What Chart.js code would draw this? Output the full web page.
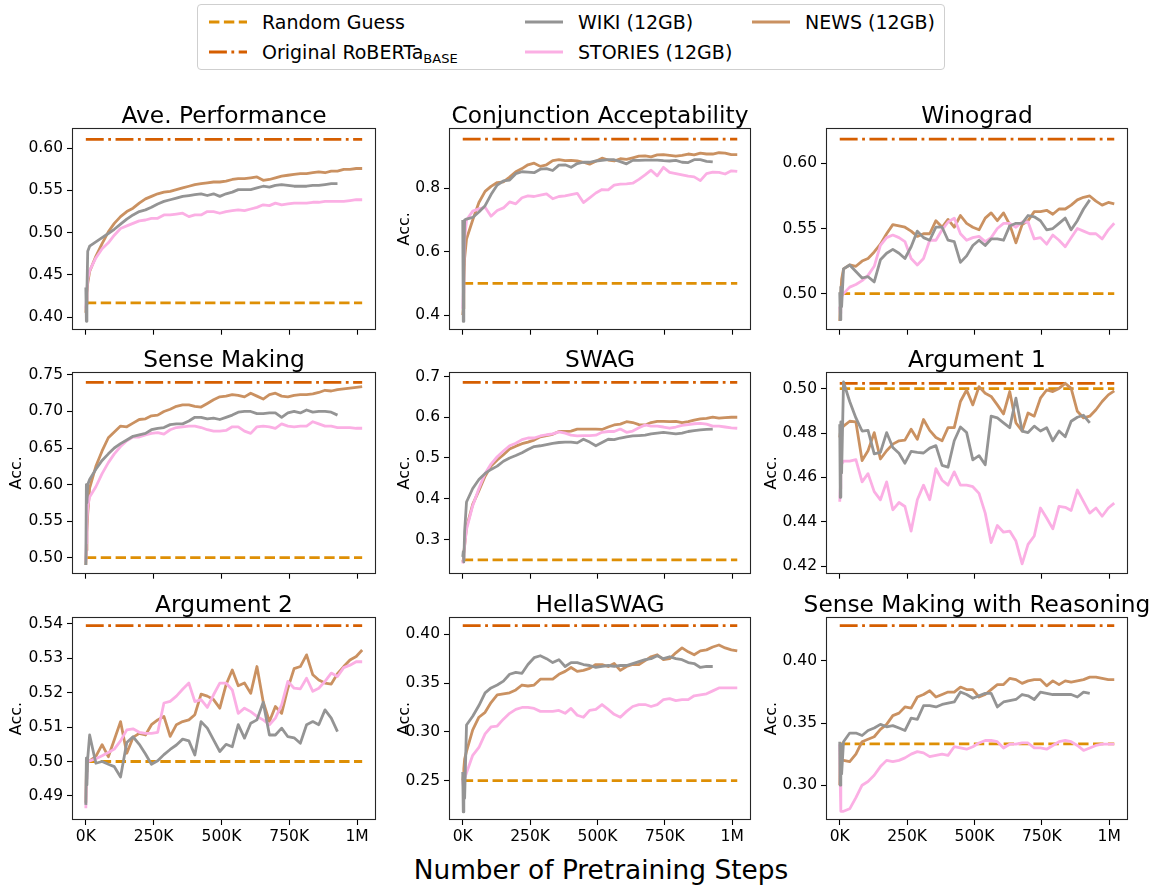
<!DOCTYPE html>
<html><head><meta charset="utf-8">
<script src="https://cdn.jsdelivr.net/npm/chart.js@4"></script>
<style>
html,body{margin:0;padding:0;background:#fff;}
body{width:1159px;height:887px;position:relative;overflow:hidden;font-family:"DejaVu Sans",sans-serif;color:#000;}
canvas.cv{position:absolute;}
#legend{position:absolute;left:197px;top:4px;width:748px;height:66px;border:1px solid #cfcfcf;border-radius:4px;box-sizing:border-box;background:#fff;}
.li{position:absolute;height:24px;display:flex;align-items:center;white-space:nowrap;font-size:19px;line-height:24px;}
.li svg{margin-right:15px;flex:none;}
.li sub{font-size:13px;vertical-align:-4px;line-height:0;}
#xlabel{position:absolute;left:0;width:1202px;text-align:center;top:855px;font-size:26.4px;line-height:30px;white-space:nowrap;}
</style></head><body>
<div id="legend"></div>
<div id="xlabel">Number of Pretraining Steps</div>
<script>
// ---------------- DATA ----------------
// pretraining steps (in thousands) of the checkpoints
const STEPS_K = [0,2,4,7,14,37,60,83,105,128,151,174,197,220,242,265,288,311,334,357,380,402,425,448,471,494,517,540,562,585,608,631,654,677,699,722,745,768,791,814,837,859,882,905,928,951,974,997,1019];
const XTICKS = [0,250,500,750,1000];
const XTICK_LABELS = ['0K','250K','500K','750K','1M'];
const TITLES = ['Ave. Performance','Conjunction Acceptability','Winograd','Sense Making','SWAG','Argument 1','Argument 2','HellaSWAG','Sense Making with Reasoning'];
const RANDOM_GUESS = [0.4167,0.5,0.5,0.5,0.25,0.5,0.5,0.25,0.3333];
const ROBERTA_BASE = [0.6105,0.955,0.6187,0.7397,0.6855,0.5024,0.5395,0.4088,0.4284];
const YTICKS = [[0.40,0.45,0.50,0.55,0.60],[0.4,0.6,0.8],[0.50,0.55,0.60],[0.50,0.55,0.60,0.65,0.70,0.75],[0.3,0.4,0.5,0.6,0.7],[0.42,0.44,0.46,0.48,0.50],[0.49,0.50,0.51,0.52,0.53,0.54],[0.25,0.30,0.35,0.40],[0.30,0.35,0.40]];

const AVE_WIKI = [0.435,0.395,0.43,0.478, 0.484,0.489,0.494,0.499,0.504,0.510,0.516,0.521,0.525,0.527, 0.530,0.534,0.537,0.539,0.541,0.543,0.544,0.545,0.546,0.544, 0.546,0.543,0.546,0.548,0.551,0.551,0.551,0.553,0.555,0.554, 0.556,0.557,0.556,0.555,0.555,0.555,0.556,0.556,0.557,0.558, 0.558];
const AVE_STORIES = [0.41,0.42,0.432,0.445, 0.455,0.470,0.481,0.488,0.497,0.505,0.508,0.511,0.514,0.515, 0.517,0.517,0.521,0.521,0.522,0.523,0.519,0.521,0.521,0.525, 0.525,0.523,0.525,0.526,0.527,0.526,0.528,0.530,0.533,0.532, 0.535,0.533,0.534,0.535,0.535,0.535,0.536,0.536,0.537,0.537, 0.537,0.537,0.538,0.539,0.539];
const AVE_NEWS = [0.405,0.415,0.428,0.44, 0.454,0.472,0.487,0.501,0.511,0.519,0.525,0.529,0.535,0.540, 0.543,0.546,0.548,0.549,0.551,0.553,0.555,0.557,0.558,0.559, 0.560,0.560,0.561,0.563,0.564,0.564,0.565,0.566,0.562,0.563, 0.565,0.567,0.568,0.569,0.570,0.570,0.571,0.572,0.571,0.573, 0.573,0.575,0.575,0.576,0.576];

const CONJ_WIKI = [0.70,0.38,0.55,0.70, 0.703,0.708,0.725,0.745,0.78,0.81,0.823,0.826,0.846,0.852, 0.851,0.849,0.86,0.862,0.856,0.873,0.874,0.866,0.878,0.882, 0.882,0.886,0.888,0.89,0.89,0.884,0.877,0.888,0.888,0.889, 0.889,0.889,0.887,0.886,0.888,0.882,0.881,0.89,0.89,0.885, 0.883];
const CONJ_STORIES = [0.42,0.47,0.56,0.64, 0.70,0.728,0.735,0.74,0.712,0.73,0.738,0.757,0.751,0.77, 0.776,0.774,0.778,0.782,0.767,0.774,0.776,0.78,0.784,0.755, 0.77,0.785,0.796,0.795,0.81,0.813,0.814,0.816,0.828,0.842, 0.857,0.839,0.866,0.85,0.846,0.842,0.838,0.836,0.824,0.846, 0.851,0.85,0.845,0.855,0.853];
const CONJ_NEWS = [0.40,0.42,0.50,0.58, 0.64,0.70,0.755,0.79,0.806,0.818,0.82,0.835,0.852,0.862, 0.874,0.879,0.869,0.874,0.887,0.89,0.887,0.888,0.886,0.882, 0.876,0.885,0.895,0.889,0.886,0.893,0.891,0.896,0.901,0.902, 0.899,0.905,0.906,0.904,0.901,0.904,0.908,0.905,0.911,0.908, 0.908,0.912,0.911,0.906,0.906];

const WINO_WIKI = [0.501,0.48,0.505,0.49, 0.519,0.522,0.517,0.512,0.513,0.509,0.526,0.531,0.534,0.531, 0.527,0.536,0.548,0.543,0.541,0.551,0.551,0.541,0.540,0.524, 0.529,0.537,0.541,0.537,0.542,0.542,0.541,0.552,0.554,0.554, 0.560,0.559,0.556,0.549,0.550,0.554,0.558,0.549,0.556,0.565, 0.572];
const WINO_STORIES = [0.49,0.485,0.49,0.498, 0.500,0.505,0.507,0.510,0.514,0.521,0.537,0.543,0.545,0.543, 0.540,0.527,0.522,0.527,0.541,0.541,0.549,0.555,0.558,0.546, 0.541,0.543,0.544,0.540,0.543,0.550,0.554,0.554,0.551,0.555, 0.555,0.542,0.543,0.538,0.545,0.541,0.536,0.543,0.550,0.548, 0.546,0.546,0.542,0.549,0.554];
const WINO_NEWS = [0.479,0.49,0.50,0.511, 0.519,0.522,0.521,0.525,0.527,0.532,0.538,0.546,0.553,0.552, 0.551,0.548,0.544,0.546,0.546,0.556,0.551,0.557,0.551,0.560, 0.554,0.551,0.549,0.558,0.562,0.556,0.562,0.553,0.539,0.553, 0.556,0.563,0.563,0.564,0.561,0.565,0.565,0.568,0.572,0.574, 0.575,0.571,0.568,0.570,0.569];

const SENSE_WIKI = [0.49,0.60,0.575,0.60, 0.607,0.621,0.633,0.642,0.650,0.656,0.661,0.666,0.668,0.670, 0.675,0.677,0.678,0.682,0.683,0.683,0.687,0.692,0.692,0.690, 0.691,0.689,0.692,0.695,0.699,0.700,0.700,0.697,0.697,0.698, 0.698,0.692,0.698,0.700,0.698,0.702,0.699,0.700,0.700,0.699, 0.695];
const SENSE_STORIES = [0.495,0.52,0.55,0.57, 0.583,0.597,0.615,0.630,0.642,0.652,0.660,0.665,0.665,0.668, 0.670,0.671,0.669,0.675,0.678,0.679,0.680,0.680,0.678,0.675, 0.673,0.673,0.674,0.679,0.679,0.673,0.670,0.679,0.680,0.679, 0.677,0.683,0.680,0.679,0.680,0.680,0.686,0.683,0.680,0.680, 0.678,0.678,0.678,0.677,0.677];
const SENSE_NEWS = [0.49,0.51,0.535,0.56, 0.595,0.625,0.646,0.664,0.672,0.680,0.679,0.684,0.689,0.690, 0.694,0.695,0.700,0.703,0.707,0.709,0.709,0.707,0.706,0.711, 0.716,0.720,0.721,0.723,0.722,0.720,0.725,0.721,0.717,0.723, 0.725,0.721,0.720,0.722,0.723,0.723,0.724,0.726,0.729,0.728, 0.730,0.731,0.732,0.733,0.734];

const SWAG_WIKI = [0.257,0.27,0.245,0.32, 0.392,0.425,0.447,0.462,0.472,0.480,0.492,0.500,0.506,0.513, 0.521,0.528,0.530,0.533,0.536,0.538,0.539,0.539,0.537,0.546, 0.539,0.530,0.538,0.546,0.545,0.549,0.552,0.554,0.555,0.556, 0.559,0.561,0.563,0.561,0.559,0.561,0.565,0.567,0.569,0.570, 0.571];
const SWAG_STORIES = [0.241,0.25,0.265,0.285, 0.325,0.383,0.425,0.462,0.485,0.503,0.517,0.530,0.536,0.545, 0.549,0.549,0.554,0.557,0.559,0.564,0.561,0.556,0.554,0.555, 0.555,0.556,0.563,0.565,0.565,0.571,0.563,0.566,0.574,0.581, 0.578,0.578,0.576,0.573,0.576,0.580,0.582,0.584,0.585,0.583, 0.578,0.578,0.576,0.574,0.573];
const SWAG_NEWS = [0.245,0.25,0.265,0.285, 0.33,0.386,0.42,0.455,0.48,0.495,0.508,0.522,0.529,0.535, 0.539,0.544,0.552,0.555,0.558,0.565,0.565,0.566,0.571,0.571, 0.571,0.571,0.570,0.576,0.581,0.583,0.589,0.587,0.582,0.581, 0.587,0.590,0.590,0.589,0.590,0.587,0.589,0.593,0.596,0.597, 0.600,0.598,0.599,0.600,0.600];

const ARG1_WIKI = [0.484,0.451,0.485,0.462, 0.503,0.4942,0.4868,0.4809,0.4812,0.4706,0.4713,0.4802,0.4735,0.4709, 0.4664,0.4717,0.4713,0.4710,0.4732,0.4743,0.4654,0.4646,0.4765,0.4827, 0.4802,0.4679,0.4698,0.4657,0.4876,0.4868,0.4846,0.4824,0.4957,0.4809, 0.4802,0.4831,0.4809,0.4824,0.4765,0.4809,0.4783,0.4853,0.4871,0.4880, 0.4846];
const ARG1_STORIES = [0.449,0.455,0.462,0.466, 0.4673,0.4673,0.468,0.458,0.4617,0.4536,0.4499,0.458,0.4454,0.4487, 0.4469,0.4358,0.4499,0.4565,0.4499,0.4639,0.4587,0.4565,0.4625,0.4565, 0.4565,0.4558,0.4528,0.4439,0.4306,0.4383,0.4353,0.4358,0.4313,0.421, 0.4298,0.4336,0.4462,0.4417,0.4368,0.4469,0.4465,0.4451,0.4543,0.4491, 0.4439,0.4462,0.4425,0.4462,0.4484];
const ARG1_NEWS = [0.478,0.48,0.476,0.482, 0.4831,0.4853,0.485,0.4676,0.472,0.4802,0.4683,0.472,0.475,0.4765, 0.4768,0.4817,0.4772,0.4861,0.4812,0.4780,0.4765,0.4824,0.4824,0.4942, 0.4994,0.4927,0.5009,0.4979,0.4965,0.4927,0.4886,0.4987,0.4846,0.4809, 0.489,0.4876,0.4957,0.4994,0.4987,0.5001,0.5024,0.5001,0.4898,0.4868, 0.4876,0.4905,0.4942,0.4972,0.4990];

const ARG2_WIKI = [0.4874,0.501,0.4932,0.501, 0.5077,0.4995,0.5,0.4992,0.4985,0.4955,0.5055,0.5072,0.505,0.5022, 0.4992,0.5002,0.502,0.5035,0.5048,0.5065,0.506,0.5019,0.5116,0.5097, 0.5063,0.5029,0.505,0.5043,0.5107,0.5068,0.5111,0.5121,0.5172,0.5077, 0.5077,0.5097,0.5072,0.5069,0.5053,0.5107,0.5116,0.5107,0.515,0.5126, 0.5087];
const ARG2_STORIES = [0.4864,0.495,0.50,0.50, 0.5002,0.5008,0.5017,0.5026,0.5036,0.506,0.5092,0.5095,0.5085,0.5082, 0.5082,0.5085,0.517,0.5175,0.519,0.521,0.5228,0.5174,0.518,0.5157, 0.5194,0.5228,0.5228,0.5208,0.514,0.5155,0.5145,0.5131,0.5121,0.5107, 0.5126,0.5165,0.5233,0.5213,0.5211,0.5242,0.5204,0.5213,0.5233,0.5257, 0.5247,0.5273,0.528,0.529,0.529];
const ARG2_NEWS = [0.488,0.497,0.50,0.50, 0.5002,0.5015,0.5049,0.5014,0.5063,0.5116,0.5024,0.507,0.5082,0.5077, 0.5107,0.5121,0.5131,0.5073,0.5107,0.5116,0.5121,0.5136,0.5196,0.519, 0.518,0.5155,0.5223,0.5266,0.522,0.5228,0.5198,0.5276,0.5174,0.5116, 0.516,0.514,0.5213,0.527,0.5276,0.531,0.5252,0.5237,0.5228,0.5225, 0.5255,0.5276,0.5295,0.5305,0.5324];

const HELLA_WIKI = [0.259,0.218,0.249,0.232, 0.307,0.316,0.327,0.340,0.345,0.348,0.352,0.359,0.361,0.360, 0.369,0.376,0.378,0.375,0.371,0.374,0.367,0.371,0.371,0.369, 0.368,0.366,0.367,0.368,0.367,0.368,0.368,0.370,0.372,0.374, 0.375,0.378,0.375,0.377,0.375,0.374,0.371,0.370,0.366,0.367, 0.367];
const HELLA_STORIES = [0.25,0.245,0.25,0.252, 0.258,0.276,0.284,0.298,0.305,0.306,0.313,0.319,0.323,0.325, 0.325,0.324,0.321,0.321,0.321,0.322,0.319,0.324,0.317,0.315, 0.322,0.323,0.328,0.323,0.318,0.315,0.321,0.326,0.328,0.328, 0.326,0.328,0.333,0.334,0.332,0.333,0.333,0.337,0.338,0.339, 0.342,0.345,0.345,0.345,0.345];
const HELLA_NEWS = [0.25,0.255,0.262,0.272, 0.28,0.302,0.315,0.320,0.330,0.338,0.339,0.340,0.343,0.348, 0.347,0.348,0.354,0.354,0.354,0.359,0.362,0.366,0.362,0.363, 0.365,0.369,0.369,0.367,0.370,0.363,0.367,0.369,0.369,0.373, 0.377,0.379,0.374,0.375,0.381,0.386,0.382,0.379,0.383,0.384, 0.387,0.389,0.386,0.384,0.383];

const SMR_WIKI = [0.335,0.30,0.333,0.309, 0.335,0.342,0.342,0.340,0.344,0.346,0.349,0.347,0.348,0.346, 0.344,0.354,0.353,0.364,0.364,0.363,0.365,0.366,0.367,0.375, 0.373,0.370,0.372,0.374,0.374,0.363,0.367,0.368,0.369,0.373, 0.372,0.369,0.375,0.374,0.373,0.373,0.373,0.373,0.371,0.375, 0.374];
const SMR_STORIES = [0.333,0.30,0.279,0.279, 0.279,0.281,0.290,0.300,0.303,0.308,0.315,0.320,0.319,0.320, 0.322,0.325,0.327,0.326,0.323,0.324,0.325,0.324,0.331,0.330, 0.329,0.331,0.334,0.336,0.336,0.335,0.330,0.333,0.333,0.334, 0.334,0.330,0.330,0.329,0.332,0.335,0.336,0.335,0.332,0.328, 0.330,0.332,0.333,0.333,0.333];
const SMR_NEWS = [0.30,0.33,0.32,0.32, 0.32,0.319,0.325,0.335,0.337,0.339,0.345,0.349,0.356,0.358, 0.363,0.362,0.371,0.373,0.376,0.371,0.373,0.375,0.375,0.379, 0.377,0.377,0.371,0.373,0.377,0.381,0.381,0.386,0.385,0.382, 0.384,0.385,0.385,0.380,0.384,0.381,0.384,0.383,0.384,0.385, 0.387,0.387,0.386,0.385,0.385];

const SERIES = [
  [AVE_WIKI, AVE_STORIES, AVE_NEWS],
  [CONJ_WIKI, CONJ_STORIES, CONJ_NEWS],
  [WINO_WIKI, WINO_STORIES, WINO_NEWS],
  [SENSE_WIKI, SENSE_STORIES, SENSE_NEWS],
  [SWAG_WIKI, SWAG_STORIES, SWAG_NEWS],
  [ARG1_WIKI, ARG1_STORIES, ARG1_NEWS],
  [ARG2_WIKI, ARG2_STORIES, ARG2_NEWS],
  [HELLA_WIKI, HELLA_STORIES, HELLA_NEWS],
  [SMR_WIKI, SMR_STORIES, SMR_NEWS]
];
const SERIES_NAMES = ['WIKI (12GB)','STORIES (12GB)','NEWS (12GB)'];

// ---------------- LAYOUT / STYLE ----------------
const BOXES = [[72,128,376,333],[449,128,751,333],[826,128,1128,333],
               [72,372,376,577],[449,372,751,577],[826,372,1128,577],
               [72,617,376,820],[449,617,751,820],[826,617,1128,820]];
const YRANGE = [[0.385,0.624],[0.354,0.990],[0.4723,0.6272],[0.478,0.754],[0.216,0.711],[0.4166,0.5075],[0.483,0.542],[0.2097,0.4177],[0.272,0.4354]];
const DECIMALS = [2,1,2,2,1,2,2,2,2];
const YLABEL_X = [null,405,405,17,405,772,17,405,772];
const X_MIN = -51, X_MAX = 1070;
const COLORS = {wiki:'#949494', stories:'#fbafe4', news:'#ca9161', random:'#de8f05', roberta:'#d55e00'};
const LW = 2.8;
const DASH_RANDOM = [10.4,4.5];
const DASH_ROBERTA = [17.9,4.5,2.8,4.5];
const FONT = '"DejaVu Sans"';

const framePlugin = {
  id:'frameTitle',
  afterDraw(chart, args, opts){
    const {ctx, chartArea:a} = chart;
    ctx.save();
    ctx.strokeStyle = '#262626'; ctx.lineWidth = 1.1;
    ctx.strokeRect(Math.round(a.left)+0.5, Math.round(a.top)+0.5, Math.round(a.right-a.left)-1, Math.round(a.bottom-a.top)-1);
    ctx.fillStyle = '#000';
    ctx.font = '23.3px ' + FONT;
    ctx.textAlign = 'center'; ctx.textBaseline = 'alphabetic';
    ctx.fillText(opts.text, (a.left+a.right)/2, a.top - 5);
    ctx.restore();
  }
};

function makeChart(i){
  const [L,T,R,B] = BOXES[i];
  const col = i % 3;
  const bottomRow = i >= 6;
  const axisW = 72, padTop = 40;
  const padRight = col === 2 ? (1159 - R) : 14;
  const xAxisH = bottomRow ? 34 : 10;
  const cw = axisW + (R - L) + padRight;
  const ch = padTop + (B - T) + xAxisH;
  const cv = document.createElement('canvas');
  cv.className = 'cv';
  cv.width = cw; cv.height = ch;
  cv.style.left = (L - axisW) + 'px';
  cv.style.top = (T - padTop) + 'px';
  cv.style.width = cw + 'px'; cv.style.height = ch + 'px';
  document.body.appendChild(cv);

  const last = STEPS_K[STEPS_K.length - 1];
  const pts = arr => arr.map((v, j) => ({x: STEPS_K[j], y: v}));
  const [w, s, n] = SERIES[i];
  const base = {pointRadius:0, pointHoverRadius:0, borderWidth:LW, tension:0, fill:false, borderJoinStyle:'round', borderCapStyle:'butt'};
  const datasets = [
    Object.assign({label:'Random Guess', data:[{x:0,y:RANDOM_GUESS[i]},{x:last,y:RANDOM_GUESS[i]}], borderColor:COLORS.random, borderDash:DASH_RANDOM, order:5}, base),
    Object.assign({label:'Original RoBERTa BASE', data:[{x:0,y:ROBERTA_BASE[i]},{x:last,y:ROBERTA_BASE[i]}], borderColor:COLORS.roberta, borderDash:DASH_ROBERTA, order:4}, base),
    Object.assign({label:SERIES_NAMES[2], data:pts(n), borderColor:COLORS.news, order:3}, base),
    Object.assign({label:SERIES_NAMES[1], data:pts(s), borderColor:COLORS.stories, order:2}, base),
    Object.assign({label:SERIES_NAMES[0], data:pts(w), borderColor:COLORS.wiki, order:1}, base)
  ];
  const ylabSize = 16;
  const ylabPad = YLABEL_X[i] === null ? 0 : (YLABEL_X[i] - (L - axisW)) - 0.6*ylabSize;
  const tickFont = {family:'DejaVu Sans', size:15.5};
  const gridOpt = {display:true, drawOnChartArea:false, drawTicks:true, tickLength:5, tickColor:'#000', tickWidth:1.1, color:'#000'};

  new Chart(cv, {
    type:'line',
    data:{datasets},
    options:{
      responsive:false, animation:false, devicePixelRatio:1,
      parsing:false, normalized:true,
      layout:{padding:{top:padTop, right:padRight, left:0, bottom:0}},
      plugins:{legend:{display:false}, tooltip:{enabled:false}, title:{display:false}, frameTitle:{text:TITLES[i]}},
      events:[],
      scales:{
        x:{type:'linear', min:X_MIN, max:X_MAX,
           afterFit(sc){ sc.height = xAxisH; },
           afterBuildTicks(sc){ sc.ticks = XTICKS.map(v => ({value:v})); },
           ticks:{callback:(v, idx) => bottomRow ? XTICK_LABELS[idx] : '', font:tickFont, color:'#000', padding:3, maxRotation:0, autoSkip:false},
           grid:gridOpt, border:{display:false}},
        y:{type:'linear', min:YRANGE[i][0], max:YRANGE[i][1],
           afterFit(sc){ sc.width = axisW; },
           afterBuildTicks(sc){ sc.ticks = YTICKS[i].map(v => ({value:v})); },
           ticks:{callback:v => Number(v).toFixed(DECIMALS[i]), font:tickFont, color:'#000', padding:4, autoSkip:false},
           title:{display:YLABEL_X[i] !== null, text:'Acc.', color:'#000', font:{family:'DejaVu Sans', size:ylabSize}, padding:{top:ylabPad, bottom:0}},
           grid:gridOpt, border:{display:false}}
      }
    },
    plugins:[framePlugin]
  });
}

// ---------------- LEGEND ----------------
function swatch(color, dash){
  const da = dash ? ` stroke-dasharray="${dash.join(' ')}"` : '';
  return `<svg width="38" height="24"><line x1="0" y1="12" x2="38" y2="12" stroke="${color}" stroke-width="${LW}"${da}/></svg>`;
}
const LEGEND_ITEMS = [
  {x:209, y:10, html:swatch(COLORS.random, DASH_RANDOM) + '<span>Random Guess</span>'},
  {x:209, y:40, html:swatch(COLORS.roberta, DASH_ROBERTA) + '<span>Original RoBERTa<sub>BASE</sub></span>'},
  {x:525, y:10, html:swatch(COLORS.wiki) + '<span>' + SERIES_NAMES[0] + '</span>'},
  {x:525, y:40, html:swatch(COLORS.stories) + '<span>' + SERIES_NAMES[1] + '</span>'},
  {x:752, y:10, html:swatch(COLORS.news) + '<span>' + SERIES_NAMES[2] + '</span>'}
];
LEGEND_ITEMS.forEach(it => {
  const d = document.createElement('div');
  d.className = 'li';
  d.style.left = it.x + 'px'; d.style.top = it.y + 'px';
  d.innerHTML = it.html;
  document.body.appendChild(d);
});

for (let i = 0; i < 9; i++) makeChart(i);
</script>
</body></html>
